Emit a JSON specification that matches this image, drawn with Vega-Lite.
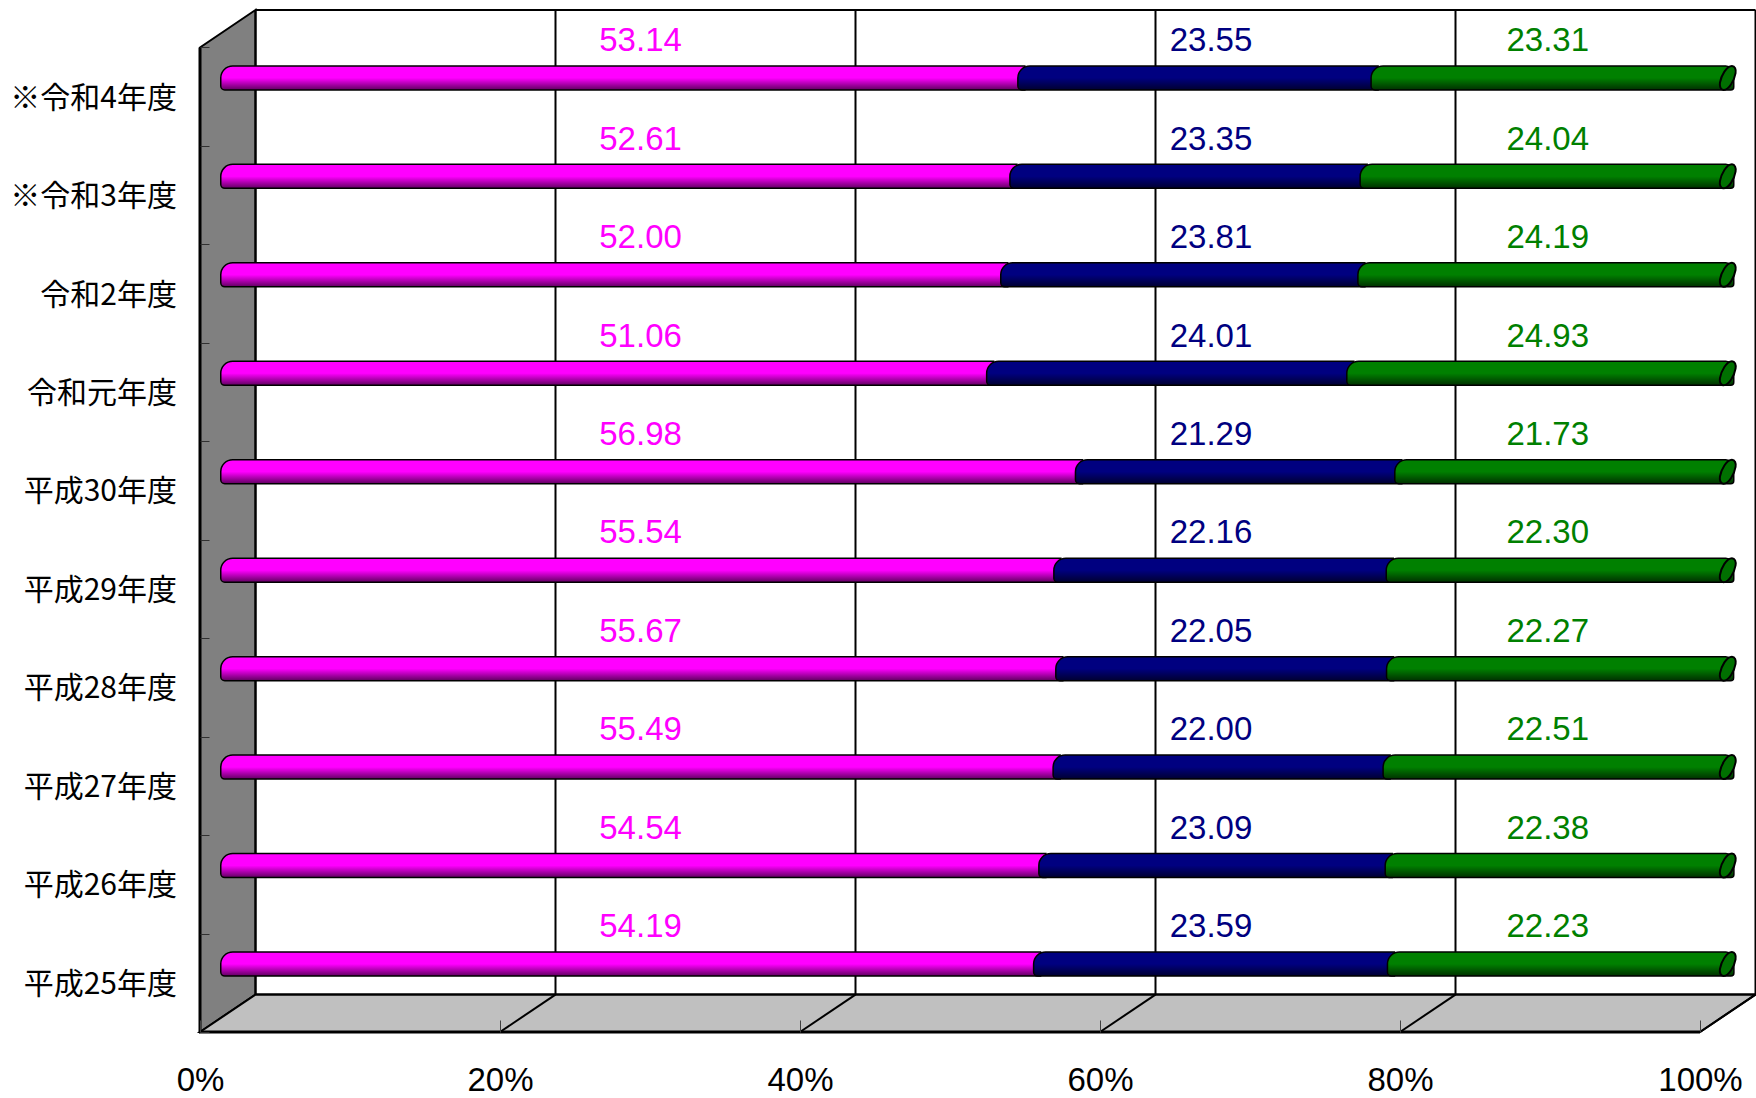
{"$schema":"https://vega.github.io/schema/vega-lite/v6.json","width":1556,"height":1022,"autosize":{"type":"none"},"padding":{"left":200,"top":10,"right":0,"bottom":66},"background":"white","config":{"view":{"stroke":null}},
"datasets":{"rows":[
{"year":"平成25年度","row":0,"series":"A","value":54.19},{"year":"平成25年度","row":0,"series":"B","value":23.59},{"year":"平成25年度","row":0,"series":"C","value":22.23},
{"year":"平成26年度","row":1,"series":"A","value":54.54},{"year":"平成26年度","row":1,"series":"B","value":23.09},{"year":"平成26年度","row":1,"series":"C","value":22.38},
{"year":"平成27年度","row":2,"series":"A","value":55.49},{"year":"平成27年度","row":2,"series":"B","value":22.00},{"year":"平成27年度","row":2,"series":"C","value":22.51},
{"year":"平成28年度","row":3,"series":"A","value":55.67},{"year":"平成28年度","row":3,"series":"B","value":22.05},{"year":"平成28年度","row":3,"series":"C","value":22.27},
{"year":"平成29年度","row":4,"series":"A","value":55.54},{"year":"平成29年度","row":4,"series":"B","value":22.16},{"year":"平成29年度","row":4,"series":"C","value":22.30},
{"year":"平成30年度","row":5,"series":"A","value":56.98},{"year":"平成30年度","row":5,"series":"B","value":21.29},{"year":"平成30年度","row":5,"series":"C","value":21.73},
{"year":"令和元年度","row":6,"series":"A","value":51.06},{"year":"令和元年度","row":6,"series":"B","value":24.01},{"year":"令和元年度","row":6,"series":"C","value":24.93},
{"year":"令和2年度","row":7,"series":"A","value":52.00},{"year":"令和2年度","row":7,"series":"B","value":23.81},{"year":"令和2年度","row":7,"series":"C","value":24.19},
{"year":"※令和3年度","row":8,"series":"A","value":52.61},{"year":"※令和3年度","row":8,"series":"B","value":23.35},{"year":"※令和3年度","row":8,"series":"C","value":24.04},
{"year":"※令和4年度","row":9,"series":"A","value":53.14},{"year":"※令和4年度","row":9,"series":"B","value":23.55},{"year":"※令和4年度","row":9,"series":"C","value":23.31}
]},
"layer":[
{"data":{"values":[{"x":0,"y0":-0.5,"y1":9.5},{"x":3.7,"y0":-0.12,"y1":9.88}]},"mark":{"type":"area","orient":"vertical","fill":"#808080","stroke":"#000000","strokeWidth":2},
"encoding":{"x":{"field":"x","type":"quantitative","scale":{"domain":[0,103.733],"nice":false,"zero":false,"padding":0},"axis":{"values":[0,20,40,60,80,100],"title":null,"grid":false,"domain":false,"labelExpr":"datum.value+'%'","tickSize":-12,"tickColor":"#404040","tickWidth":1,"labelFont":"Liberation Sans","labelFontSize":33,"labelColor":"#000000","labelPadding":44,"labelFlush":false,"labelOverlap":false,"zindex":1}},
"y":{"field":"y0","type":"quantitative","scale":{"domain":[-0.5,9.88],"nice":false,"zero":false,"padding":0},"axis":{"values":[-0.5,0.5,1.5,2.5,3.5,4.5,5.5,6.5,7.5,8.5,9.5],"title":null,"grid":false,"domain":false,"labels":false,"tickSize":-9,"tickColor":"#303030","tickWidth":1,"zindex":1}},
"y2":{"field":"y1"}}},
{"data":{"values":[{"y":-0.5,"x0":0,"x1":100},{"y":-0.12,"x0":3.7,"x1":103.7}]},"mark":{"type":"area","orient":"horizontal","fill":"#C0C0C0","stroke":"#000000","strokeWidth":2},
"encoding":{"x":{"field":"x0","type":"quantitative"},"x2":{"field":"x1"},"y":{"field":"y","type":"quantitative"}}},
{"data":{"values":[{"t":0},{"t":20},{"t":40},{"t":60},{"t":80},{"t":100}]},"mark":{"type":"rule","color":"#000000","strokeWidth":2,"xOffset":55.5},
"encoding":{"x":{"field":"t","type":"quantitative"},"y":{"datum":-0.12},"y2":{"datum":9.88}}},
{"data":{"values":[{"a":3.7,"b":103.7,"y":9.88},{"a":3.7,"b":103.7,"y":-0.12}]},"mark":{"type":"rule","color":"#000000","strokeWidth":2},
"encoding":{"x":{"field":"a","type":"quantitative"},"x2":{"field":"b"},"y":{"field":"y","type":"quantitative"}}},
{"data":{"values":[{"t":20,"x":20,"y":-0.5},{"t":20,"x":23.7,"y":-0.12},{"t":40,"x":40,"y":-0.5},{"t":40,"x":43.7,"y":-0.12},{"t":60,"x":60,"y":-0.5},{"t":60,"x":63.7,"y":-0.12},{"t":80,"x":80,"y":-0.5},{"t":80,"x":83.7,"y":-0.12},{"t":100,"x":100,"y":-0.5},{"t":100,"x":103.7,"y":-0.12}]},"mark":{"type":"line","color":"#000000","strokeWidth":2},
"encoding":{"x":{"field":"x","type":"quantitative"},"y":{"field":"y","type":"quantitative"},"detail":{"field":"t"}}},
{"data":{"values":[{"a":0,"b":100,"y":-0.5}]},"mark":{"type":"rule","color":"#000000","strokeWidth":3},
"encoding":{"x":{"field":"a","type":"quantitative"},"x2":{"field":"b"},"y":{"field":"y","type":"quantitative"}}},
{"data":{"values":[{"x":0,"a":-0.5,"b":9.5}]},"mark":{"type":"rule","color":"#000000","strokeWidth":3},
"encoding":{"x":{"field":"x","type":"quantitative"},"y":{"field":"a","type":"quantitative"},"y2":{"field":"b"}}},
{"data":{"name":"rows"},"transform":[{"stack":"value","groupby":["row"],"sort":[{"field":"series","order":"ascending"}],"as":["start","end"]}],
"layer":[
{"transform":[{"filter":"datum.series==='A'"}],"mark":{"type":"bar","size":24,"orient":"horizontal","xOffset":20.75,"x2Offset":27.75,"yOffset":-18.75,"y2Offset":-18.75,"strokeWidth":1.5,"cornerRadiusTopLeft":12,"cornerRadiusBottomLeft":4,"color":{"gradient":"linear","x1":0,"y1":0,"x2":0,"y2":1,"stops":[{"offset":0,"color":"#FF00FF"},{"offset":0.5,"color":"#FF00FF"},{"offset":1,"color":"#600060"}]},"stroke":"#000000"},
"encoding":{"x":{"field":"start","type":"quantitative"},"x2":{"field":"end"},"y":{"field":"row","type":"quantitative"}}},
{"transform":[{"filter":"datum.series==='B'"}],"mark":{"type":"bar","size":24,"orient":"horizontal","xOffset":20.75,"x2Offset":27.75,"yOffset":-18.75,"y2Offset":-18.75,"strokeWidth":1.5,"cornerRadiusTopLeft":12,"cornerRadiusBottomLeft":4,"color":{"gradient":"linear","x1":0,"y1":0,"x2":0,"y2":1,"stops":[{"offset":0,"color":"#000080"},{"offset":0.5,"color":"#000080"},{"offset":1,"color":"#000030"}]},"stroke":"#000000"},
"encoding":{"x":{"field":"start","type":"quantitative"},"x2":{"field":"end"},"y":{"field":"row","type":"quantitative"}}},
{"transform":[{"filter":"datum.series==='C'"}],"mark":{"type":"bar","size":24,"orient":"horizontal","xOffset":20.75,"x2Offset":33.75,"yOffset":-18.75,"y2Offset":-18.75,"strokeWidth":1.5,"cornerRadiusTopLeft":12,"cornerRadiusBottomLeft":4,"cornerRadiusTopRight":8,"cornerRadiusBottomRight":3,"color":{"gradient":"linear","x1":0,"y1":0,"x2":0,"y2":1,"stops":[{"offset":0,"color":"#008000"},{"offset":0.5,"color":"#008000"},{"offset":1,"color":"#003000"}]},"stroke":"#000000"},
"encoding":{"x":{"field":"start","type":"quantitative"},"x2":{"field":"end"},"y":{"field":"row","type":"quantitative"}}},
{"transform":[{"filter":"datum.series==='C'"}],"mark":{"type":"point","filled":true,"opacity":1,"size":576,"xOffset":27.75,"yOffset":-18.75,"fill":"#007000","stroke":"#000000","strokeWidth":2,"shape":"M0.35,-1C0.6,-1 0.7,-0.7 0.65,-0.4C0.55,0.2 0.1,1 -0.35,1C-0.6,1 -0.7,0.7 -0.65,0.4C-0.55,-0.2 -0.1,-1 0.35,-1Z"},
"encoding":{"x":{"datum":100,"type":"quantitative"},"y":{"field":"row","type":"quantitative"}}},
{"transform":[{"filter":"datum.series==='A'"}],"mark":{"type":"text","align":"center","baseline":"middle","font":"Liberation Sans","fontSize":33,"color":"#FF00FF","yOffset":-55.5},
"encoding":{"x":{"datum":29.37,"type":"quantitative"},"y":{"field":"row","type":"quantitative"},"text":{"field":"value","type":"quantitative","format":".2f"}}},
{"transform":[{"filter":"datum.series==='B'"}],"mark":{"type":"text","align":"center","baseline":"middle","font":"Liberation Sans","fontSize":33,"color":"#000080","yOffset":-55.5},
"encoding":{"x":{"datum":67.4,"type":"quantitative"},"y":{"field":"row","type":"quantitative"},"text":{"field":"value","type":"quantitative","format":".2f"}}},
{"transform":[{"filter":"datum.series==='C'"}],"mark":{"type":"text","align":"center","baseline":"middle","font":"Liberation Sans","fontSize":33,"color":"#008000","yOffset":-55.5},
"encoding":{"x":{"datum":89.85,"type":"quantitative"},"y":{"field":"row","type":"quantitative"},"text":{"field":"value","type":"quantitative","format":".2f"}}},
{"transform":[{"filter":"datum.series==='A'"}],"mark":{"type":"text","align":"right","baseline":"middle","font":"Noto Sans CJK JP","fontSize":30,"color":"#000000","xOffset":-23,"yOffset":2},
"encoding":{"x":{"datum":0,"type":"quantitative"},"y":{"field":"row","type":"quantitative"},"text":{"field":"year","type":"nominal"}}}
]}
]}
